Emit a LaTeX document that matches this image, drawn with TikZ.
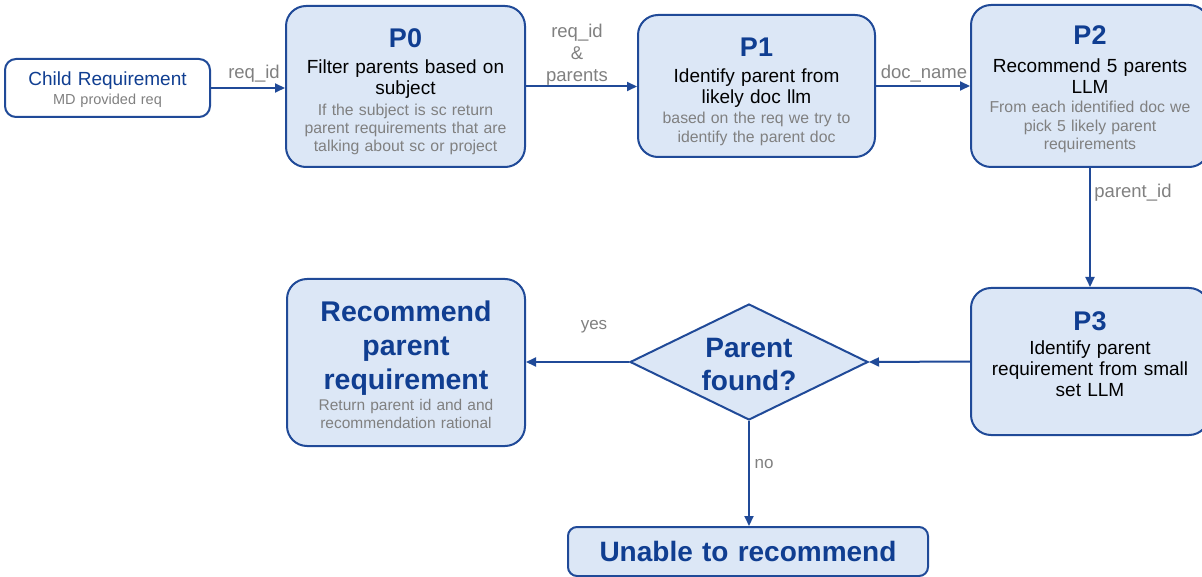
\documentclass[tikz,border=0pt]{standalone}
\usepackage{fontspec}
\setmainfont{Liberation Sans}
\usetikzlibrary{shapes.geometric,arrows.meta}
\definecolor{bord}{RGB}{32,74,152}
\definecolor{ttl}{RGB}{16,62,145}
\definecolor{boxfill}{RGB}{220,231,246}
\definecolor{gry}{RGB}{128,128,128}
\newcommand{\myfs}[2]{\fontsize{#1}{#2}\selectfont\spaceskip=.33em\relax}
\tikzset{
  box/.style={draw=bord, line width=2pt, fill=boxfill, rounded corners=20pt, align=center, inner sep=0pt},
  conn/.style={draw=bord, line width=2pt, -{Triangle[length=10pt,width=9pt]}},
  lbl/.style={text=gry, font=\myfs{18.5}{22}, align=center, inner sep=0pt},
}
\begin{document}
\begin{tikzpicture}[x=1pt,y=-1pt]
\useasboundingbox (0,0) rectangle (1202,577);
% nodes
\node[box, fill=white, rounded corners=11pt, minimum width=205, minimum height=58, text width=200] (child) at (107.5,88)
  {{\myfs{19}{20}\color{ttl}\rule{0pt}{18pt}Child Requirement\par}{\myfs{14.5}{19}\color{gry}MD provided req\par}};
\node[box, minimum width=239, minimum height=161, text width=235] (p0) at (405.5,86.5)
  {{\myfs{27}{28}\bfseries\color{ttl}\rule{0pt}{29.5pt}P0\par}\vspace{5pt}{\myfs{19}{21}Filter parents based on\\subject\par}\vspace{3pt}{\myfs{15.8}{18}\color{gry}If the subject is sc return\\parent requirements that are\\talking about sc or project\par}};
\node[box, minimum width=237, minimum height=142, text width=233] (p1) at (756.5,86)
  {{\myfs{27}{28}\bfseries\color{ttl}\rule{0pt}{29.5pt}P1\par}\vspace{5pt}{\myfs{19}{21}Identify parent from\\likely doc llm\par}\vspace{1pt}{\myfs{15.8}{19}\color{gry}based on the req we try to\\identify the parent doc\par}};
\node[box, minimum width=238, minimum height=162, text width=234] (p2) at (1090,86)
  {{\myfs{27}{28}\bfseries\color{ttl}\rule{0pt}{25.5pt}P2\par}\vspace{7pt}{\myfs{19}{21}Recommend 5 parents\\LLM\par}\vspace{1pt}{\myfs{15.8}{18.5}\color{gry}From each identified doc we\\pick 5 likely parent\\requirements\par}};
\node[box, minimum width=238, minimum height=147, text width=234] (p3) at (1090,361.5)
  {{\myfs{27}{28}\bfseries\color{ttl}P3\par}\vspace{3pt}{\myfs{19}{21}Identify parent\\requirement from small\\set LLM\rule[-14pt]{0pt}{14pt}\par}};
\node[box, sharp corners, shape=diamond, aspect=2.05, minimum width=238, minimum height=116] (dia) at (749,362)
  {\parbox{110pt}{\vspace*{5pt}\centering\myfs{28}{33}\bfseries\color{ttl}Parent\\found?}};
\node[box, minimum width=238, minimum height=167, text width=234] (rec) at (406,362.5)
  {{\myfs{28.5}{34}\bfseries\color{ttl}\rule{0pt}{26pt}Recommend\\parent\\requirement\par}\vspace{3pt}{\myfs{15.5}{18}\color{gry}Return parent id and and\\recommendation rational\par}};
\node[box, rounded corners=9pt, minimum width=360, minimum height=49, text width=356] (unable) at (748,551.5)
  {{\myfs{28}{30}\bfseries\color{ttl}Unable to recommend\par}};
% connectors
\draw[conn] (child.east) -- (child.east -| p0.west);
\draw[conn] (p0.east) -- (p0.east -| p1.west);
\draw[conn] (p1.east) -- (p1.east -| p2.west);
\draw[conn] (p2.south) -- (p3.north);
\draw[conn] (p3.west) -- (dia.east);
\draw[conn] (dia.west) -- (dia.west -| rec.east);
\draw[conn] (dia.south) -- (dia.south |- unable.north);
% labels
\node[lbl] (l1) at (254,74) {req\_id};
\node[lbl] (l2) at (577,55) {req\_id\\\&\\parents};
\node[lbl] (l3) at (924,74) {doc\_name};
\node[lbl] (l4) at (1133,193) {parent\_id};
\node[lbl, font=\myfs{17}{20}] (l5) at (594,327) {yes};
\node[lbl, font=\myfs{17}{20}] (l6) at (764,464) {no};
\end{tikzpicture}
\end{document}
